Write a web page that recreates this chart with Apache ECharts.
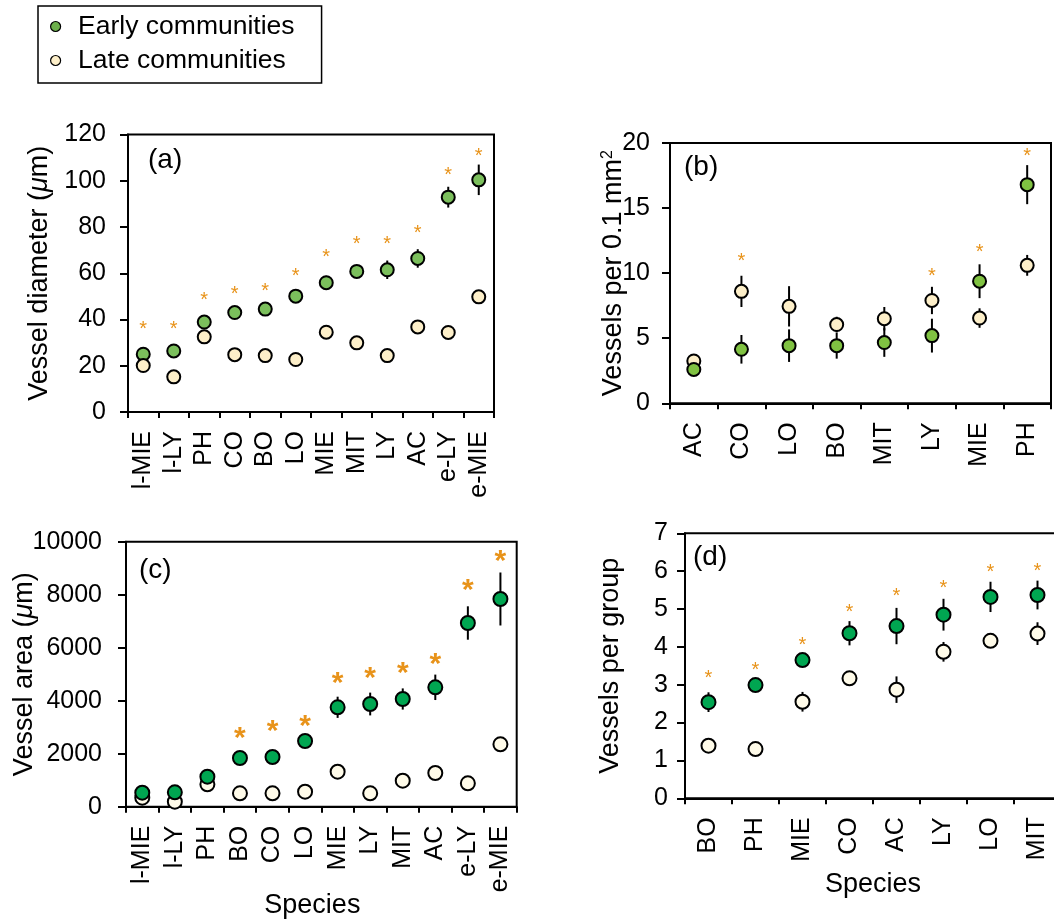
<!DOCTYPE html>
<html>
<head>
<meta charset="utf-8">
<script src="https://cdn.jsdelivr.net/npm/echarts@6/dist/echarts.min.js"></script>
<style>
html,body{margin:0;padding:0;background:#fff;}
#chart{width:1054px;height:922px;}
</style>
</head>
<body>
<div id="chart"></div>
<script>
// ---------- DATA ----------
// (a) Vessel diameter
const catsA = ['l-MIE','l-LY','PH','CO','BO','LO','MIE','MIT','LY','AC','e-LY','e-MIE'];
const earlyA = [25.0, 26.4, 38.9, 43.0, 44.5, 50.1, 55.9, 60.8, 61.5, 66.4, 92.9, 100.4];
const earlyErrA = [1.2, 1.2, 1.5, 1.5, 1.5, 1.5, 3.0, 2.7, 4.0, 4.0, 4.5, 6.6];
const lateA = [20.1, 15.2, 32.5, 24.8, 24.4, 22.7, 34.5, 29.9, 24.4, 36.8, 34.4, 49.8];
const lateErrA = [1, 1, 1, 1, 1, 1, 1, 1, 1, 1, 1, 1];
const starA = [37.7, 37.4, 50.3, 52.9, 53.9, 60.5, 68.8, 74.2, 74.5, 78.9, 104.1, 112.5];
const ticksA = {min: 0, max: 120, interval: 20};

// (b) Vessels per 0.1 mm2
const catsB = ['AC','CO','LO','BO','MIT','LY','MIE','PH'];
const earlyB = [2.6, 4.15, 4.43, 4.43, 4.67, 5.2, 9.38, 16.8];
const earlyErrB = [0.3, 1.1, 1.25, 1.0, 1.1, 1.3, 1.3, 1.5];
const lateB = [3.25, 8.6, 7.45, 6.05, 6.5, 7.9, 6.55, 10.6];
const lateErrB = [0.2, 1.2, 1.55, 0.6, 0.9, 1.05, 0.75, 0.8];
const starB = [null, 11.2, null, null, null, 10.1, 11.9, 19.3];
const ticksB = {min: 0, max: 20, interval: 5};

// (c) Vessel area
const catsC = ['l-MIE','l-LY','PH','BO','CO','LO','MIE','LY','MIT','AC','e-LY','e-MIE'];
const earlyC = [528, 543, 1132, 1838, 1875, 2479, 3751, 3875, 4064, 4505, 6932, 7838];
const earlyErrC = [100, 100, 100, 100, 100, 120, 400, 430, 400, 480, 630, 1000];
const lateC = [340, 189, 845, 506, 506, 566, 1321, 506, 981, 1272, 883, 2355];
const lateErrC = [50, 50, 50, 50, 50, 50, 50, 50, 50, 50, 50, 50];
const starC = [null, null, null, 2808, 3083, 3260, 4906, 5083, 5283, 5611, 8392, 9498];
const ticksC = {min: 0, max: 10000, interval: 2000};

// (d) Vessels per group
const catsD = ['BO','PH','MIE','CO','AC','LY','LO','MIT'];
const earlyD = [2.54, 2.99, 3.65, 4.36, 4.55, 4.85, 5.32, 5.37];
const earlyErrD = [0.26, 0.15, 0.1, 0.32, 0.48, 0.42, 0.4, 0.38];
const lateD = [1.39, 1.30, 2.55, 3.17, 2.87, 3.87, 4.16, 4.35];
const lateErrD = [0.05, 0.05, 0.26, 0.08, 0.35, 0.26, 0.1, 0.3];
const starD = [3.28, 3.48, 4.16, 5.03, 5.46, 5.66, 6.07, 6.12];
const ticksD = {min: 0, max: 7, interval: 1};

const legendNames = ['Early communities', 'Late communities'];
const xTitle = 'Species';

// ---------- STYLE ----------
const FONT = "'Liberation Sans', Arial, Helvetica, sans-serif";
const STAR = '#E8931A';

const panels = [
  {cats: catsA, early: earlyA, eErr: earlyErrA, late: lateA, lErr: lateErrA, stars: starA, ticks: ticksA,
   grid: {left: 128, top: 134.5, width: 366, height: 277.5},
   eCol: '#7bbf5c', lCol: '#fdefc9', size: 13, starSize: 20, starBold: false, lateOnTop: true,
   yName: 'Vessel diameter ({i|μ}m)', yGap: 75, yLabMargin: 22, xAxisName: '', xTitlePos: null, tag: '(a)', tagPos: [148, 146]},
  {cats: catsB, early: earlyB, eErr: earlyErrB, late: lateB, lErr: lateErrB, stars: starB, ticks: ticksB,
   grid: {left: 670, top: 143, width: 381, height: 260.3},
   eCol: '#80c242', lCol: '#fdefc9', size: 13, starSize: 20, starBold: false, lateOnTop: false,
   yName: 'Vessels per 0.1 mm{sup|2}', yGap: 42, yLabMargin: 20, xAxisName: '', xTitlePos: null, tag: '(b)', tagPos: [684, 153]},
  {cats: catsC, early: earlyC, eErr: earlyErrC, late: lateC, lErr: lateErrC, stars: starC, ticks: ticksC,
   grid: {left: 126, top: 541.7, width: 390.7, height: 265},
   eCol: '#00a651', lCol: '#fffbe9', size: 14, starSize: 30, starBold: true, lateOnTop: false,
   yName: 'Vessel area ({i|μ}m)', yGap: 88, yLabMargin: 24, xAxisName: xTitle, xGap: 85, xNameShift: 18, xTitlePos: null,
   tag: '(c)', tagPos: [139, 556]},
  {cats: catsD, early: earlyD, eErr: earlyErrD, late: lateD, lErr: lateErrD, stars: starD, ticks: ticksD,
   grid: {left: 685, top: 533.3, width: 376, height: 265},
   eCol: '#00a651', lCol: '#fffbe9', size: 14, starSize: 20, starBold: false, lateOnTop: false,
   yName: 'Vessels per group', yGap: 61, yLabMargin: 17, xAxisName: '', xTitlePos: [825, 871],
   tag: '(d)', tagPos: [693, 543]}
];

const option = {
  animation: false,
  backgroundColor: '#fff',
  textStyle: {fontFamily: FONT},
  grid: [], xAxis: [], yAxis: [], series: [], title: [],
  legend: {
    left: 38, top: 6, orient: 'vertical',
    padding: [7, 27, 9, 12],
    borderColor: '#000', borderWidth: 1.5,
    itemWidth: 27, itemHeight: 10, itemGap: 7,
    icon: 'circle',
    selectedMode: false,
    textStyle: {fontFamily: FONT, fontSize: 26.5, color: '#000', lineHeight: 26, padding: [0, 0, 0, 4]},
    data: [
      {name: legendNames[0], itemStyle: {color: '#6cb04b', borderColor: '#000', borderWidth: 1.2}},
      {name: legendNames[1], itemStyle: {color: '#fdefc9', borderColor: '#000', borderWidth: 1.2}}
    ]
  }
};

panels.forEach((p, gi) => {
  option.grid.push(Object.assign({show: true, borderColor: '#000', borderWidth: 2, backgroundColor: 'transparent',
    containLabel: false, outerBoundsMode: 'none'}, p.grid));
  option.xAxis.push({
    type: 'category', gridIndex: gi, data: p.cats, boundaryGap: true,
    axisLine: {show: true, lineStyle: {color: '#000', width: 2}},
    axisTick: {show: true, length: 6, lineStyle: {color: '#000', width: 2}},
    axisLabel: {rotate: 90, fontSize: 25, color: '#000', fontFamily: FONT, margin: 19, interval: 0},
    splitLine: {show: false},
    name: p.xAxisName, nameLocation: 'middle', nameGap: p.xGap || 0, nameMoveOverlap: false,
    nameTextStyle: {fontSize: 27, color: '#000', fontFamily: FONT, padding: [0, p.xNameShift || 0, 0, 0]}
  });
  option.yAxis.push({
    type: 'value', gridIndex: gi, min: p.ticks.min, max: p.ticks.max, interval: p.ticks.interval,
    axisLine: {show: true, lineStyle: {color: '#000', width: 2}},
    axisTick: {show: true, length: 8, lineStyle: {color: '#000', width: 2}},
    axisLabel: {fontSize: 25, color: '#000', fontFamily: FONT, margin: p.yLabMargin, formatter: v => String(v)},
    splitLine: {show: false},
    name: p.yName, nameLocation: 'middle', nameGap: p.yGap,
    nameMoveOverlap: false,
    nameTextStyle: {fontSize: 27, color: '#000', fontFamily: FONT,
      rich: {
        i: {fontSize: 27, fontStyle: 'italic', fontFamily: FONT, color: '#000'},
        sup: {fontSize: 16, fontFamily: FONT, color: '#000', verticalAlign: 'bottom', padding: [0, 0, 12, 0]}
      }}
  });
  option.title.push({
    text: p.tag, left: p.tagPos[0], top: p.tagPos[1], padding: 0,
    textStyle: {fontSize: 28, fontWeight: 'normal', color: '#000', fontFamily: FONT}
  });
  if (p.xTitlePos) {
    option.title.push({
      text: xTitle, left: p.xTitlePos[0], top: p.xTitlePos[1], padding: 0,
      textStyle: {fontSize: 27, fontWeight: 'normal', color: '#000', fontFamily: FONT}
    });
  }

  const errData = (vals, errs) => vals.map((v, i) => [i, v - errs[i], v + errs[i]]);
  const errRender = (params, api) => {
    const x = api.value(0);
    const a = api.coord([x, api.value(1)]);
    const b = api.coord([x, api.value(2)]);
    return {type: 'line', shape: {x1: a[0], y1: a[1], x2: b[0], y2: b[1]}, style: {stroke: '#000', lineWidth: 2}};
  };
  option.series.push({type: 'custom', xAxisIndex: gi, yAxisIndex: gi, z: 1, silent: true,
    renderItem: errRender, encode: {x: 0, y: [1, 2]}, data: errData(p.late, p.lErr)});
  option.series.push({type: 'custom', xAxisIndex: gi, yAxisIndex: gi, z: 1, silent: true,
    renderItem: errRender, encode: {x: 0, y: [1, 2]}, data: errData(p.early, p.eErr)});

  const earlyS = {type: 'scatter', name: legendNames[0], xAxisIndex: gi, yAxisIndex: gi,
    symbol: 'circle', symbolSize: p.size, data: p.early,
    itemStyle: {color: p.eCol, borderColor: '#000', borderWidth: 2, opacity: 1}, z: p.lateOnTop ? 2 : 3};
  const lateS = {type: 'scatter', name: legendNames[1], xAxisIndex: gi, yAxisIndex: gi,
    symbol: 'circle', symbolSize: p.size, data: p.late,
    itemStyle: {color: p.lCol, borderColor: '#000', borderWidth: 2, opacity: 1}, z: p.lateOnTop ? 3 : 2};
  option.series.push(earlyS, lateS);

  const starData = [];
  p.stars.forEach((v, i) => { if (v !== null) starData.push([i, v]); });
  option.series.push({type: 'custom', xAxisIndex: gi, yAxisIndex: gi, z: 4, silent: true,
    encode: {x: 0, y: 1}, data: starData,
    renderItem: (params, api) => {
      const c = api.coord([api.value(0), api.value(1)]);
      return {type: 'text', x: c[0], y: c[1] + p.starSize * 0.22,
        style: {text: '*', fill: STAR, fontSize: p.starSize, fontWeight: p.starBold ? 'bold' : 'normal',
          fontFamily: FONT, align: 'center', verticalAlign: 'middle'}};
    }});
});

const chart = echarts.init(document.getElementById('chart'), null, {renderer: 'canvas'});
chart.setOption(option);
</script>
</body>
</html>
